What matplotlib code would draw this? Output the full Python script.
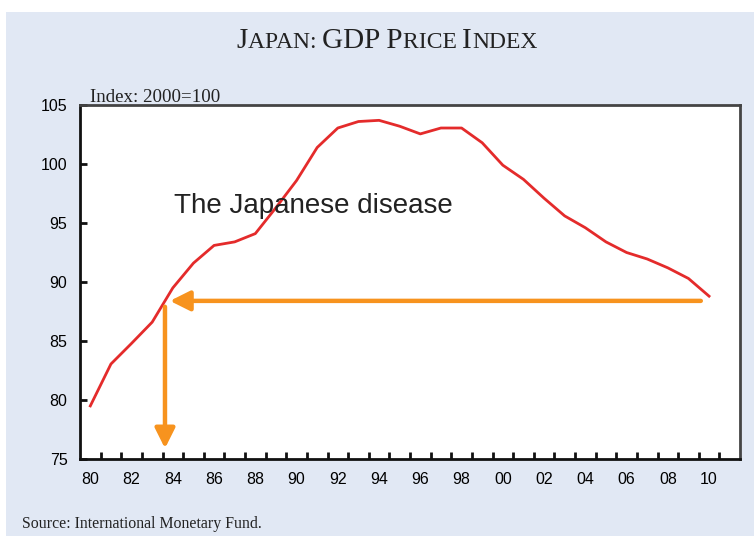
import matplotlib
matplotlib.use("Agg")
import matplotlib.pyplot as plt
from matplotlib.patches import Rectangle, FancyArrowPatch

years = list(range(1980, 2011))
gdp_price_index = [79.5, 83.05, 84.8, 86.6, 89.5, 91.6, 93.1, 93.4, 94.1, 96.3,
                   98.6, 101.4, 103.05, 103.6, 103.7, 103.2, 102.55, 103.05, 103.05, 101.8,
                   99.9, 98.7, 97.1, 95.6, 94.6, 93.4, 92.5, 91.95, 91.2, 90.3, 88.8]
tick_years = list(range(1980, 2011, 2))
tick_labels = [f"{y % 100:02d}" for y in tick_years]
y_ticks = [75, 80, 85, 90, 95, 100, 105]

# annotation arrows (data coordinates)
h_arrow = ((2009.6, 88.4), (1983.86, 88.4))
v_arrow = ((1983.62, 87.9), (1983.62, 75.9))

BG = "#E1E8F4"
RED = "#E42B2B"
ORANGE = "#F7931E"

W, H = 754, 536
fig = plt.figure(figsize=(W / 100, H / 100), dpi=100)
fig.patch.set_facecolor("white")
fig.patches.append(Rectangle((6 / W, 0), 1 - 6 / W, (H - 12) / H, transform=fig.transFigure,
                             facecolor=BG, edgecolor="none", zorder=-5))

ax = fig.add_axes([80 / W, 1 - 459 / H, 660 / W, 354 / H])
ax.set_zorder(2)
ax.set_facecolor("white")
ax.plot(years, gdp_price_index, color=RED, lw=2.0, solid_joinstyle="round", zorder=3)

ax.set_xlim(1979.5, 2011.5)
ax.set_ylim(75, 105)
ax.set_xticks(tick_years)
ax.set_xticklabels(tick_labels)
ax.set_xticks([y + 0.5 for y in range(1980, 2011)], minor=True)
ax.tick_params(axis="x", which="major", length=0, pad=9, labelsize=11.5)
ax.tick_params(axis="x", which="minor", direction="in", length=5, width=2, color="#111111")
ax.set_yticks(y_ticks)
ax.tick_params(axis="y", direction="in", length=5, width=2, color="#111111", pad=9, labelsize=11.5)
for lab in ax.get_xticklabels() + ax.get_yticklabels():
    lab.set_family("Liberation Sans")
for s in ["left", "bottom"]:
    ax.spines[s].set_linewidth(2)
    ax.spines[s].set_color("#111111")
for s in ["top", "right"]:
    ax.spines[s].set_linewidth(2)
    ax.spines[s].set_color("#444444")

for (x0, y0), (x1, y1) in [h_arrow, v_arrow]:
    ax.add_patch(FancyArrowPatch((x0, y0), (x1, y1), arrowstyle="-|>,head_length=12,head_width=6",
                                 mutation_scale=1, lw=3.2, color=ORANGE, shrinkA=0, shrinkB=0,
                                 zorder=4))

ax.text(1984.06, 95.85, "The Japanese disease", fontsize=20, family="Liberation Sans",
        color="#222222", va="baseline")

fig.text(90 / W, 1 - 102 / H, "Index: 2000=100", fontsize=13.6, family="Liberation Serif",
         color="#222222", va="baseline")
fig.text(22 / W, 1 - 528 / H, "Source: International Monetary Fund.", fontsize=11.4,
         family="Liberation Serif", color="#222222", va="baseline")

# small-caps title
parts = [("J", 21), ("APAN: ", 17), ("GDP P", 21), ("RICE ", 17), ("I", 21), ("NDEX", 17)]
texts = []
for s, sz in parts:
    t = fig.text(0, 1 - 48 / H, s, fontsize=sz, family="Liberation Serif", color="#222222",
                 va="baseline")
    texts.append(t)
fig.canvas.draw()
r = fig.canvas.get_renderer()
total = 0
xs = []
for (s, sz), t in zip(parts, texts):
    xs.append(total)
    if s.endswith(" "):
        tmp = fig.text(0, 0, s.rstrip() + "|", fontsize=sz, family="Liberation Serif")
        tmp2 = fig.text(0, 0, "|", fontsize=sz, family="Liberation Serif")
        tmp3 = fig.text(0, 0, "| |", fontsize=sz, family="Liberation Serif")
        w2 = tmp2.get_window_extent(r).width
        w = tmp.get_window_extent(r).width - w2
        w += tmp3.get_window_extent(r).width - 2 * w2
        tmp.remove(); tmp2.remove(); tmp3.remove()
    else:
        w = t.get_window_extent(r).width
    total += w
start = 387 - total / 2
for t, x in zip(texts, xs):
    t.set_position(((start + x) / W, 1 - 48 / H))

fig.savefig("out.png", dpi=100, facecolor=fig.get_facecolor())
